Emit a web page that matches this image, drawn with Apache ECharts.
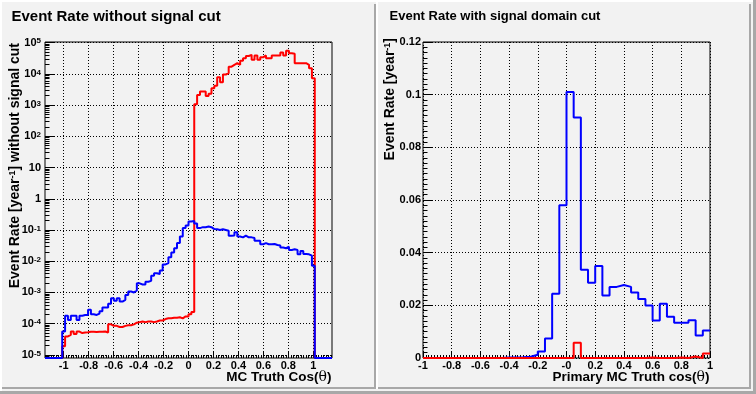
<!DOCTYPE html>
<html>
<head>
<meta charset="utf-8">
<script src="https://cdn.jsdelivr.net/npm/echarts@6/dist/echarts.min.js"></script>
<style>
html,body{margin:0;padding:0;background:#f2f2f2;}
#c{width:756px;height:394px;}
</style>
</head>
<body>
<div id="c"></div>
<script>
// ---------------- DATA ----------------
// Left pad: 100 bins over [-1.15, 1.15]
const leftBinMin = -1.15;
const leftBinMax = 1.15;
const leftRed = [
  0, 0, 0, 0, 0, 0,
  1.9e-5, 3.9e-5, 4.4e-5, 5.6e-5, 4.7e-5, 5.6e-5, 5.0e-5, 5.2e-5, 5.3e-5, 5.5e-5,
  5.5e-5, 5.4e-5, 5.5e-5, 5.5e-5, 5.6e-5, 5.2e-5, 9.5e-5, 8.5e-5, 8.5e-5, 7.8e-5,
  7.8e-5, 8.5e-5, 8.9e-5, 8.9e-5, 9.5e-5, 1.07e-4, 1.12e-4, 1.17e-4, 1.12e-4, 1.17e-4,
  1.17e-4, 1.12e-4, 1.17e-4, 1.26e-4, 1.26e-4, 1.4e-4, 1.48e-4, 1.48e-4, 1.55e-4, 1.55e-4,
  1.6e-4, 1.48e-4, 1.7e-4, 1.7e-4, 2.0e-4, 2.35e-4,
  1070, 2090, 2700, 2700, 1950, 2290, 3470, 4170, 7760, 5370,
  9550, 10500, 17000, 19500, 21900, 19500, 26300, 31600, 37200, 40700,
  28200, 38900, 28200, 33900, 38900, 31600, 31600, 38900, 38900, 38900,
  47900, 38900, 55000, 45700, 43700, 21900, 21900, 21900, 21900, 19500,
  15100, 7240,
  0, 0, 0, 0, 0, 0
];
const leftBlue = [
  0, 0, 0, 0, 0, 0,
  5.6e-5, 1.8e-4, 1.3e-4, 1.8e-4, 1.8e-4, 1.3e-4, 1.8e-4, 1.9e-4, 1.9e-4, 2.8e-4,
  2.0e-4, 1.9e-4, 2.1e-4, 2.5e-4, 3.3e-4, 3.3e-4, 4.3e-4, 6.5e-4, 5.4e-4, 6.5e-4,
  5.1e-4, 5.8e-4, 8.3e-4, 1.07e-3, 1.0e-3, 1.15e-3, 1.95e-3, 1.8e-3, 1.8e-3, 2.2e-3,
  2.35e-3, 3.4e-3, 4.1e-3, 3.9e-3, 5.0e-3, 7.9e-3, 8.7e-3, 1.35e-2, 1.9e-2, 2.6e-2,
  3.8e-2, 6.2e-2, 0.115, 0.138, 0.186, 0.195, 0.16, 0.115, 0.123, 0.123,
  0.129, 0.123, 0.107, 0.105, 0.100, 0.105, 0.100, 0.095, 0.065, 0.066,
  0.085, 0.062, 0.058, 0.066, 0.058, 0.058, 0.055, 0.045, 0.045, 0.035,
  0.038, 0.035, 0.035, 0.0355, 0.033, 0.032, 0.0275, 0.026, 0.029, 0.023,
  0.024, 0.023, 0.0166, 0.0214, 0.017, 0.0166, 0.015, 0.0072,
  0, 0, 0, 0, 0, 0
];
// Right pad: 40 bins over [-1, 1]
const rightBinMin = -1;
const rightBinMax = 1;
const rightBlue = [
  0, 0, 0, 0, 0, 0, 0, 0, 0, 0,
  0, 0.0002, 0.0002, 0.0003, 0.0005, 0.0012, 0.0025, 0.0074, 0.0244, 0.058,
  0.101, 0.0913, 0.0335, 0.0286, 0.0349, 0.0237, 0.027, 0.0277, 0.027, 0.0249,
  0.0224, 0.0199, 0.0142, 0.0206, 0.0157, 0.0134, 0.0134, 0.0143, 0.0085, 0.0104
];
const rightRed = [
  0, 0, 0, 0, 0, 0, 0, 0, 0, 0,
  0, 0, 0, 0, 0, 0, 0, 0, 0, 0,
  0, 0.0058, 0, 0, 0, 0, 0, 0, 0, 0,
  0, 0.0002, 0, 0, 0, 0.0002, 0, 0.0006, 0, 0.0017
];
// Tick values / labels
const leftXTicks = [-1, -0.8, -0.6, -0.4, -0.2, 0, 0.2, 0.4, 0.6, 0.8, 1];
const leftXTickLabels = ['-1', '-0.8', '-0.6', '-0.4', '-0.2', '0', '0.2', '0.4', '0.6', '0.8', '1'];
const leftYExponents = [-5, -4, -3, -2, -1, 0, 1, 2, 3, 4, 5];
const rightXTicks = [-1, -0.8, -0.6, -0.4, -0.2, 0, 0.2, 0.4, 0.6, 0.8, 1];
const rightXTickLabels = ['-1', '-0.8', '-0.6', '-0.4', '-0.2', '-0', '0.2', '0.4', '0.6', '0.8', '1'];
const rightYTicks = [0, 0.02, 0.04, 0.06, 0.08, 0.1, 0.12];
const rightYTickLabels = ['0', '0.02', '0.04', '0.06', '0.08', '0.1', '0.12'];

// ---------------- helpers ----------------
const LOG_MIN = -5.1, LOG_MAX = 5.02;
function histPoints(values, lo, hi, tf) {
  const n = values.length, w = (hi - lo) / n, pts = [];
  for (let i = 0; i < n; i++) pts.push([lo + i * w, tf(values[i])]);
  pts.push([hi, tf(values[n - 1])]);
  return pts;
}
const logT = v => (v > 0 ? Math.log10(v) : LOG_MIN);
const linT = v => v;
function labelFor(ticks, labels, v) {
  for (let i = 0; i < ticks.length; i++) if (Math.abs(ticks[i] - v) < 1e-6) return labels[i];
  return '';
}
function expLabel(v) {
  const n = Math.round(v);
  if (n === 0) return '1';
  if (n === 1) return '10';
  return '10{sup|' + n + '}';
}
const leftXMinor = [];
for (let i = -57; i <= 57; i++) if (i % 10 !== 0) leftXMinor.push(i * 0.02);
const leftYMinor = [];
for (let n = -6; n <= 5; n++) for (let m = 2; m <= 9; m++) {
  const e = Math.log10(m) + n;
  if (e > LOG_MIN && e < LOG_MAX) leftYMinor.push(e);
}

const FONT = '"Liberation Sans", Arial, Helvetica, sans-serif';
const labBase = { color: '#000', fontWeight: 'bold', fontSize: 11, fontFamily: FONT };
const blk = { color: '#000', width: 1 };
const dotted = { show: true, lineStyle: { color: '#000', width: 1, type: [1, 2] } };
const noLine = { show: false, onZero: false };

const chart = echarts.init(document.getElementById('c'), null, { renderer: 'canvas', width: 756, height: 394 });

const gridBase = { show: true, borderColor: '#000', borderWidth: 1, backgroundColor: 'transparent', containLabel: false, outerBoundsMode: 'none' };

const option = {
  backgroundColor: '#f2f2f2',
  animation: false,
  grid: [
    Object.assign({ left: 45, top: 42, width: 287, height: 316 }, gridBase),
    Object.assign({ left: 423, top: 42, width: 287, height: 316 }, gridBase)
  ],
  xAxis: [
    { gridIndex: 0, type: 'value', min: leftBinMin, max: leftBinMax, position: 'bottom',
      axisLine: noLine,
      axisTick: { show: true, inside: true, length: 6, customValues: leftXTicks, lineStyle: blk },
      axisLabel: Object.assign({ margin: 2, customValues: leftXTicks, formatter: v => labelFor(leftXTicks, leftXTickLabels, v) }, labBase),
      splitLine: dotted },
    { gridIndex: 0, type: 'value', min: leftBinMin, max: leftBinMax, position: 'bottom', offset: 0,
      axisLine: noLine,
      axisTick: { show: true, inside: true, length: 3, customValues: leftXMinor, lineStyle: blk },
      axisLabel: { show: false }, splitLine: { show: false } },
    { gridIndex: 1, type: 'value', min: rightBinMin, max: rightBinMax, interval: 0.2, position: 'bottom',
      axisLine: noLine,
      axisTick: { show: true, inside: true, length: 6, lineStyle: blk },
      minorTick: { show: true, splitNumber: 10, length: 3, lineStyle: blk },
      axisLabel: Object.assign({ margin: 2, showMinLabel: true, showMaxLabel: true, formatter: v => labelFor(rightXTicks, rightXTickLabels, v) }, labBase),
      splitLine: dotted }
  ],
  yAxis: [
    { gridIndex: 0, type: 'value', min: LOG_MIN, max: LOG_MAX, position: 'left',
      axisLine: noLine,
      axisTick: { show: true, inside: true, length: 9, customValues: leftYExponents, lineStyle: blk },
      axisLabel: Object.assign({ margin: 4, customValues: leftYExponents, formatter: expLabel,
        rich: { sup: { fontSize: 8, fontWeight: 'bold', fontFamily: FONT, color: '#000', verticalAlign: 'top' } } }, labBase),
      splitLine: dotted },
    { gridIndex: 0, type: 'value', min: LOG_MIN, max: LOG_MAX, position: 'left', offset: 0,
      axisLine: noLine,
      axisTick: { show: true, inside: true, length: 4.5, customValues: leftYMinor, lineStyle: blk },
      axisLabel: { show: false }, splitLine: { show: false } },
    { gridIndex: 1, type: 'value', min: 0, max: 0.12, interval: 0.02, position: 'left',
      axisLine: noLine,
      axisTick: { show: true, inside: true, length: 9, lineStyle: blk },
      minorTick: { show: true, splitNumber: 10, length: 4.5, lineStyle: blk },
      axisLabel: Object.assign({ margin: 2, showMinLabel: true, showMaxLabel: true, formatter: v => labelFor(rightYTicks, rightYTickLabels, v) }, labBase),
      splitLine: dotted }
  ],
  series: [
    { type: 'line', xAxisIndex: 0, yAxisIndex: 0, step: 'end', showSymbol: false, clip: false, silent: true,
      data: histPoints(leftRed, leftBinMin, leftBinMax, logT), lineStyle: { color: '#ff0000', width: 2 }, z: 3 },
    { type: 'line', xAxisIndex: 0, yAxisIndex: 0, step: 'end', showSymbol: false, clip: false, silent: true,
      data: histPoints(leftBlue, leftBinMin, leftBinMax, logT), lineStyle: { color: '#0000ff', width: 2 }, z: 4 },
    { type: 'line', xAxisIndex: 2, yAxisIndex: 2, step: 'end', showSymbol: false, clip: false, silent: true,
      data: histPoints(rightBlue, rightBinMin, rightBinMax, linT), lineStyle: { color: '#0000ff', width: 2 }, z: 3 },
    { type: 'line', xAxisIndex: 2, yAxisIndex: 2, step: 'end', showSymbol: false, clip: false, silent: true,
      data: histPoints(rightRed, rightBinMin, rightBinMax, linT), lineStyle: { color: '#ff0000', width: 2 }, z: 4 }
  ],
  graphic: [
    // canvas / pad bevels
    { type: 'rect', z: -1, shape: { x: 0, y: 0, width: 756, height: 2 }, style: { fill: '#ffffff' } },
    { type: 'rect', z: -1, shape: { x: 0, y: 0, width: 2, height: 394 }, style: { fill: '#ffffff' } },
    { type: 'rect', z: -1, shape: { x: 0, y: 391, width: 756, height: 3 }, style: { fill: '#a8a8a8' } },
    { type: 'rect', z: -1, shape: { x: 753, y: 0, width: 3, height: 394 }, style: { fill: '#a8a8a8' } },
    { type: 'rect', z: -1, shape: { x: 374, y: 4, width: 2, height: 385 }, style: { fill: '#a8a8a8' } },
    { type: 'rect', z: -1, shape: { x: 2, y: 387, width: 374, height: 2 }, style: { fill: '#a8a8a8' } },
    { type: 'rect', z: -1, shape: { x: 376, y: 2, width: 2, height: 387 }, style: { fill: '#ffffff' } },
    { type: 'rect', z: -1, shape: { x: 749, y: 4, width: 2, height: 385 }, style: { fill: '#a8a8a8' } },
    { type: 'rect', z: -1, shape: { x: 378, y: 387, width: 373, height: 2 }, style: { fill: '#a8a8a8' } },
    // titles
    { type: 'text', x: 11.5, y: 16.5, style: { text: 'Event Rate without signal cut', fill: '#000', font: 'bold 15px ' + FONT, align: 'left', verticalAlign: 'middle' } },
    { type: 'text', x: 389.5, y: 16.5, style: { text: 'Event Rate with signal domain cut', fill: '#000', font: 'bold 13px ' + FONT, align: 'left', verticalAlign: 'middle' } },
    // y titles
    { type: 'text', x: 15.5, y: 43, rotation: Math.PI / 2,
      style: { text: 'Event Rate [year{sup|-1}] without signal cut', fill: '#000', font: 'bold 14px ' + FONT, align: 'right', verticalAlign: 'middle',
        rich: { sup: { fontSize: 9, fontWeight: 'bold', fontFamily: FONT, fill: '#000', verticalAlign: 'top' } } } },
    { type: 'text', x: 390.3, y: 38, rotation: Math.PI / 2,
      style: { text: 'Event Rate [year{sup|-1}]', fill: '#000', font: 'bold 14px ' + FONT, align: 'right', verticalAlign: 'middle',
        rich: { sup: { fontSize: 9, fontWeight: 'bold', fontFamily: FONT, fill: '#000', verticalAlign: 'top' } } } },
    // x titles
    { type: 'text', x: 331.5, y: 377, style: { text: 'MC Truth Cos({t|θ})', fill: '#000', font: 'bold 13.5px ' + FONT, align: 'right', verticalAlign: 'middle',
        rich: { t: { fontSize: 14, fontWeight: 'normal', fontFamily: '"DejaVu Serif", serif', fill: '#000' } } } },
    { type: 'text', x: 709.5, y: 377, style: { text: 'Primary MC Truth cos({t|θ})', fill: '#000', font: 'bold 13.5px ' + FONT, align: 'right', verticalAlign: 'middle',
        rich: { t: { fontSize: 14, fontWeight: 'normal', fontFamily: '"DejaVu Serif", serif', fill: '#000' } } } }
  ]
};
chart.setOption(option);
</script>
</body>
</html>
